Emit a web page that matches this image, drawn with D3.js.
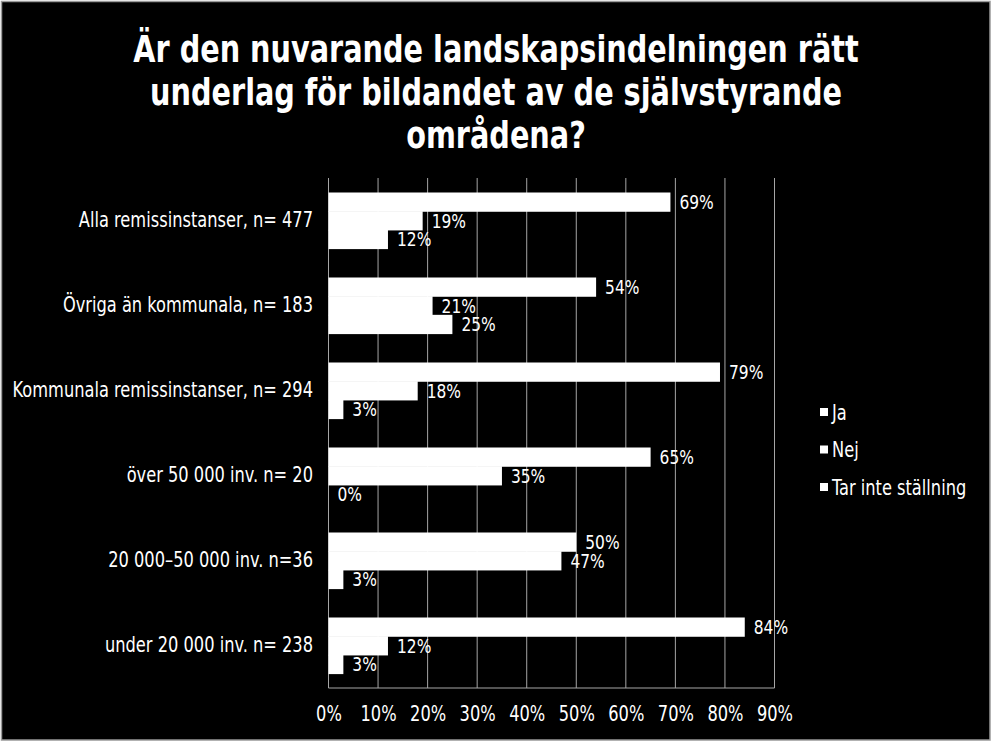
<!DOCTYPE html>
<html><head><meta charset="utf-8">
<script src="https://cdn.jsdelivr.net/npm/d3@7/dist/d3.min.js"></script>
<style>html,body{margin:0;padding:0;background:#fff;}svg{display:block;}</style>
</head><body>
<script>
const categories = [
  "Alla remissinstanser, n= 477",
  "Övriga än kommunala, n= 183",
  "Kommunala remissinstanser, n= 294",
  "över 50 000 inv. n= 20",
  "20 000–50 000 inv. n=36",
  "under 20 000 inv. n= 238"
];
const seriesNames = ["Ja", "Nej", "Tar inte ställning"];
const ja  = [69, 54, 79, 65, 50, 84];
const nej = [19, 21, 18, 35, 47, 12];
const tar = [12, 25, 3, 0, 3, 3];
const seriesValues = [ja, nej, tar];
const xTicks = [0,10,20,30,40,50,60,70,80,90];
const titleLines = ["Är den nuvarande landskapsindelningen rätt", "underlag för bildandet av de självstyrande", "områdena?"];

const W = 992, H = 742;
const SX = 0.86;
const svg = d3.select("body").append("svg").attr("width", W).attr("height", H);
svg.append("rect").attr("x",1.5).attr("y",1.5).attr("width",W-3.5).attr("height",H-3.5)
  .attr("fill","#000").attr("stroke","#999").attr("stroke-width",1.5);

const FONT = "'DejaVu Sans Condensed', 'DejaVu Sans', sans-serif";
const plot = {left: 328.5, right: 774.5, top: 178, bottom: 688};

const x = d3.scaleLinear().domain([0, 90]).range([plot.left, plot.right]);
const y0 = d3.scaleBand().domain(categories).range([plot.top, plot.bottom]).paddingInner(29/85).paddingOuter(14.5/85);
const y1 = d3.scaleBand().domain(seriesNames).range([0, y0.bandwidth()]);

// Title
svg.append("g").selectAll("text").data(titleLines).join("text")
  .attr("transform", (d,i) => `translate(${W/2},${62 + i*43}) scale(0.84,1)`)
  .attr("text-anchor","middle").attr("fill","#fff")
  .attr("font-family", FONT).attr("font-weight","bold").attr("font-size", 38)
  .text(d => d);

// gridlines
const g = svg.append("g");
g.selectAll("line.grid").data(xTicks.slice(1)).join("line")
  .attr("class","grid")
  .attr("x1", d => x(d)).attr("x2", d => x(d))
  .attr("y1", plot.top).attr("y2", plot.bottom)
  .attr("stroke", "#a6a6a6").attr("stroke-width", 1);
g.append("line").attr("x1", plot.left).attr("x2", plot.right).attr("y1", plot.bottom).attr("y2", plot.bottom)
  .attr("stroke","#a6a6a6").attr("stroke-width",1);
g.append("line").attr("x1", plot.left).attr("x2", plot.left).attr("y1", plot.top).attr("y2", plot.bottom)
  .attr("stroke","#a6a6a6").attr("stroke-width",1);

// x axis labels
const xAxis = d3.axisBottom(x).tickValues(xTicks).tickFormat(d => d + "%").tickSize(0).tickPadding(18);
const ax = svg.append("g").attr("transform", `translate(0,${plot.bottom})`).call(xAxis);
ax.select(".domain").remove();
ax.selectAll("text").attr("fill","#fff").attr("font-family", FONT).attr("font-size", 21)
  .attr("transform", `scale(${SX},1)`);

// y axis labels
const yAxis = d3.axisLeft(y0).tickSize(0).tickPadding(18);
const ay = svg.append("g").attr("transform", `translate(${plot.left},0)`).call(yAxis);
ay.select(".domain").remove();
ay.selectAll("text").attr("fill","#fff").attr("font-family", FONT).attr("font-size", 21)
  .attr("transform", `scale(${SX},1)`);

// bars
const groups = svg.append("g").selectAll("g").data(categories).join("g")
  .attr("transform", d => `translate(0,${y0(d)})`);
groups.each(function(cat, ci) {
  const gg = d3.select(this);
  seriesNames.forEach((s, si) => {
    const v = seriesValues[si][ci];
    gg.append("rect")
      .attr("x", x(0)).attr("y", y1(s))
      .attr("width", x(v) - x(0)).attr("height", y1.bandwidth() + 0.6)
      .attr("fill", "#fff");
    gg.append("text")
      .attr("transform", `translate(${x(v) + 9},${y1(s) + y1.bandwidth()/2}) scale(${SX},1)`)
      .attr("dy", "0.36em")
      .attr("fill", "#fff").attr("font-family", FONT).attr("font-size", 20)
      .text(v + "%");
  });
});

// legend
const leg = svg.append("g").selectAll("g").data(seriesNames).join("g")
  .attr("transform", (d,i) => `translate(820,${408 + i*37.5})`);
leg.append("rect").attr("width", 8).attr("height", 8).attr("fill", "#fff");
leg.append("text").attr("transform", `translate(12,4) scale(${SX},1)`).attr("dy","0.36em")
  .attr("fill","#fff").attr("font-family", FONT).attr("font-size", 21)
  .text(d => d);
</script>
</body></html>
